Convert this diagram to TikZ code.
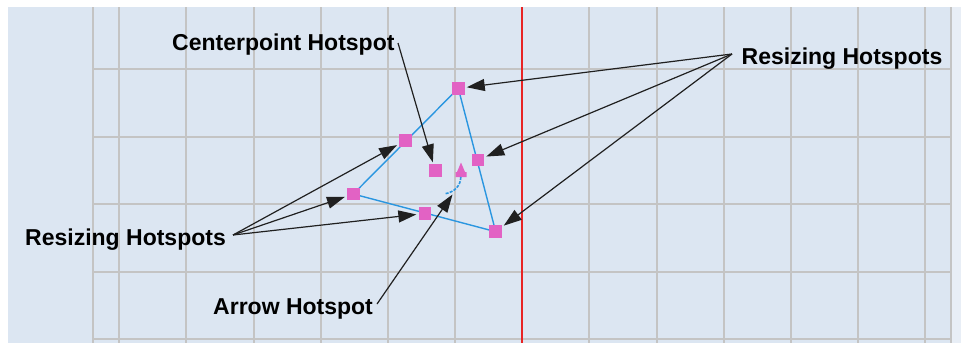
\documentclass[tikz,border=0pt]{standalone}
\usepackage{fontspec}
\setmainfont{Liberation Sans}
\usetikzlibrary{arrows.meta}
\definecolor{bgc}{HTML}{DCE6F2}
\definecolor{bgr}{HTML}{E8EEF6}
\definecolor{gridc}{HTML}{C4C4C4}
\definecolor{redc}{HTML}{E82424}
\definecolor{pinkc}{HTML}{E262C4}
\definecolor{bluec}{HTML}{2A96E0}
\definecolor{arrc}{HTML}{202020}
\tikzset{
  gridline/.style={draw=gridc, line width=2pt},
  hs/.style={fill=pinkc, inner sep=0pt, minimum size=12.5pt, draw=none, rectangle},
  edge/.style={draw=bluec, line width=1.4pt},
  arcline/.style={draw=bluec, line width=1.6pt, dash pattern=on 3pt off 1.3pt},
  arr/.style={draw=arrc, line width=1.2pt, -{Triangle[length=18pt,width=12pt]}, shorten >=2pt},
  lbl/.style={inner sep=0pt, font=\bfseries\fontsize{23}{27}\selectfont, text=black}
}
\begin{document}
\begin{tikzpicture}[x=1pt,y=-1pt]
\useasboundingbox (0,0) rectangle (961,343);
\fill[white] (0,0) rectangle (961,343);
\fill[bgc] (8,7) rectangle (951,343);
\fill[bgr] (952,7) rectangle (961,343);
% grid
\foreach \yy in {69.3,136.7,204.1,271.5,338.9} \draw[gridline] (92.7,\yy) -- (951,\yy);
\foreach \k in {0,...,12} \draw[gridline] ({119.3+67.15*\k},7) -- ({119.3+67.15*\k},343);
\draw[gridline] (92.7,7) -- (92.7,343);
\draw[gridline] (951,7) -- (951,343);
\draw[draw=redc, line width=1.6pt] (521.8,7) -- (521.8,343);
% shape
\coordinate (vt) at (458.3,88.3);
\coordinate (vl) at (353.3,194);
\coordinate (vr) at (495.7,231.7);
\draw[edge] (vt) -- (vl) -- (vr) -- cycle;
\node[hs] (ptop) at (vt) {};
\node[hs] (pleft) at (vl) {};
\node[hs] (pbr) at (vr) {};
\node[hs] (pul) at (405.3,140.6) {};
\node[hs] (pbm) at (424.8,213.5) {};
\node[hs] (prm) at (478,160) {};
\node[hs] (pc) at (435.3,170.7) {};
% arrow hotspot
\fill[pinkc] (461,162.5) -- (465,172) -- (466.5,172) -- (466.5,177) -- (455.5,177) -- (455.5,172) -- (457,172) -- cycle;
\draw[arcline] (460.8,177) .. controls (460.6,186) and (454.5,192) .. (445,193.8);
\coordinate (ahT) at (452.5,194.5);
% labels
\node[lbl, anchor=base west] (cpt) at (172,50) {Centerpoint Hotspot};
\node[lbl, anchor=base west] (rlt) at (25,245) {Resizing Hotspots};
\node[lbl, anchor=base east] (rrt) at (942.5,64) {Resizing Hotspots};
\node[lbl, anchor=base west] (aht) at (213,314) {Arrow Hotspot};
\coordinate (cpS) at (398,43);
\coordinate (rlS) at (233,235);
\coordinate (rrS) at (732,54);
\coordinate (ahS) at (377,304);
% arrows
\draw[arr] (cpS) -- (pc);
\draw[arr] (rlS) -- (pul);
\draw[arr] (rlS) -- (pleft);
\draw[arr] (rlS) -- (pbm);
\draw[arr] (rrS) -- (ptop);
\draw[arr] (rrS) -- (prm);
\draw[arr] (rrS) -- (pbr);
\draw[arr, shorten >=0pt] (ahS) -- (ahT);
\end{tikzpicture}
\end{document}
